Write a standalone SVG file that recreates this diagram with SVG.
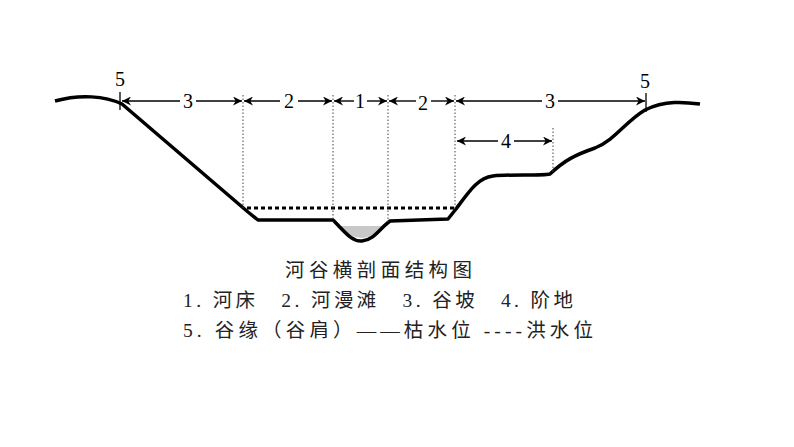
<svg xmlns="http://www.w3.org/2000/svg" width="794" height="447" viewBox="0 0 794 447">
<style>
.dim{stroke:#000;stroke-width:1.4;fill:none}
.vd{stroke:#444;stroke-width:1;stroke-dasharray:1.5 2}
.n{font-family:"Liberation Serif",serif;font-size:20px;text-anchor:middle}
.t{font-family:"Liberation Serif","Noto Sans CJK SC",serif;font-size:19.5px;fill:#222}
</style>
<defs>
<marker id="a" viewBox="0 0 10 10" refX="10" refY="5" markerWidth="12" markerHeight="9" markerUnits="userSpaceOnUse" orient="auto-start-reverse"><path d="M0,0L10,5L0,10L3,5Z" fill="#000"/></marker>
</defs>
<rect width="794" height="447" fill="#fff"/>
<g id="terrain">
<path d="M338,226 Q362,250 385,226 Z" fill="#c8c8c8"/>
<path d="M55,101 C80,94 105,96 122,104 L248,212 L258,220 L333,220 C345,232 352,242 362,241 C374,240 380,228 390,221 L448,219 L456,209 C470,190 478,178 493,176 C510,174 540,176 550,174 C565,160 575,155 595,148 C615,140 625,122 645,110 C665,100 685,102 700,104" fill="none" stroke="#000" stroke-width="3.5" stroke-linejoin="round"/>
<line x1="247" y1="208" x2="455" y2="208" stroke="#000" stroke-width="3" stroke-dasharray="4 3"/>
</g>
<g id="guides">
<line class="vd" x1="243" y1="95" x2="243" y2="208"/>
<line class="vd" x1="333" y1="95" x2="333" y2="222"/>
<line class="vd" x1="388" y1="95" x2="388" y2="222"/>
<line class="vd" x1="455" y1="95" x2="455" y2="210"/>
<line class="vd" x1="553" y1="128" x2="553" y2="172"/>
<line x1="120" y1="92" x2="120" y2="110" stroke="#000" stroke-width="1.3"/>
<line x1="646" y1="93" x2="646" y2="112" stroke="#000" stroke-width="1.3"/>
</g>
<g id="connectors">
<line class="dim" x1="180" y1="101" x2="122" y2="101" marker-end="url(#a)"/>
<line class="dim" x1="196" y1="101" x2="242" y2="101" marker-end="url(#a)"/>
<line class="dim" x1="280" y1="101" x2="244" y2="101" marker-end="url(#a)"/>
<line class="dim" x1="298" y1="101" x2="332" y2="101" marker-end="url(#a)"/>
<line class="dim" x1="354" y1="101" x2="334" y2="101" marker-end="url(#a)"/>
<line class="dim" x1="367" y1="101" x2="387" y2="101" marker-end="url(#a)"/>
<line class="dim" x1="416" y1="101" x2="389" y2="101" marker-end="url(#a)"/>
<line class="dim" x1="431" y1="101" x2="454" y2="101" marker-end="url(#a)"/>
<line class="dim" x1="542" y1="101" x2="456" y2="101" marker-end="url(#a)"/>
<line class="dim" x1="558" y1="101" x2="645" y2="101" marker-end="url(#a)"/>
<line class="dim" x1="498" y1="141" x2="457" y2="141" marker-end="url(#a)"/>
<line class="dim" x1="514" y1="141" x2="552" y2="141" marker-end="url(#a)"/>
</g>
<g id="labels">
<text class="n" x="120" y="86">5</text>
<text class="n" x="645" y="88">5</text>
<text class="n" x="188" y="108">3</text>
<text class="n" x="289" y="108">2</text>
<text class="n" x="360" y="108">1</text>
<text class="n" x="423" y="110">2</text>
<text class="n" x="550" y="108">3</text>
<text class="n" x="506" y="148">4</text>
</g>
<g id="caption">
<text class="t" x="285" y="277" textLength="187" lengthAdjust="spacing">河谷横剖面结构图</text>
<text class="t" x="183" y="307" textLength="390" lengthAdjust="spacing">1. 河床　2. 河漫滩　3. 谷坡　4. 阶地</text>
<text class="t" x="183" y="337" textLength="410" lengthAdjust="spacing">5. 谷缘（谷肩）——枯水位 ----洪水位</text>
</g>
</svg>
